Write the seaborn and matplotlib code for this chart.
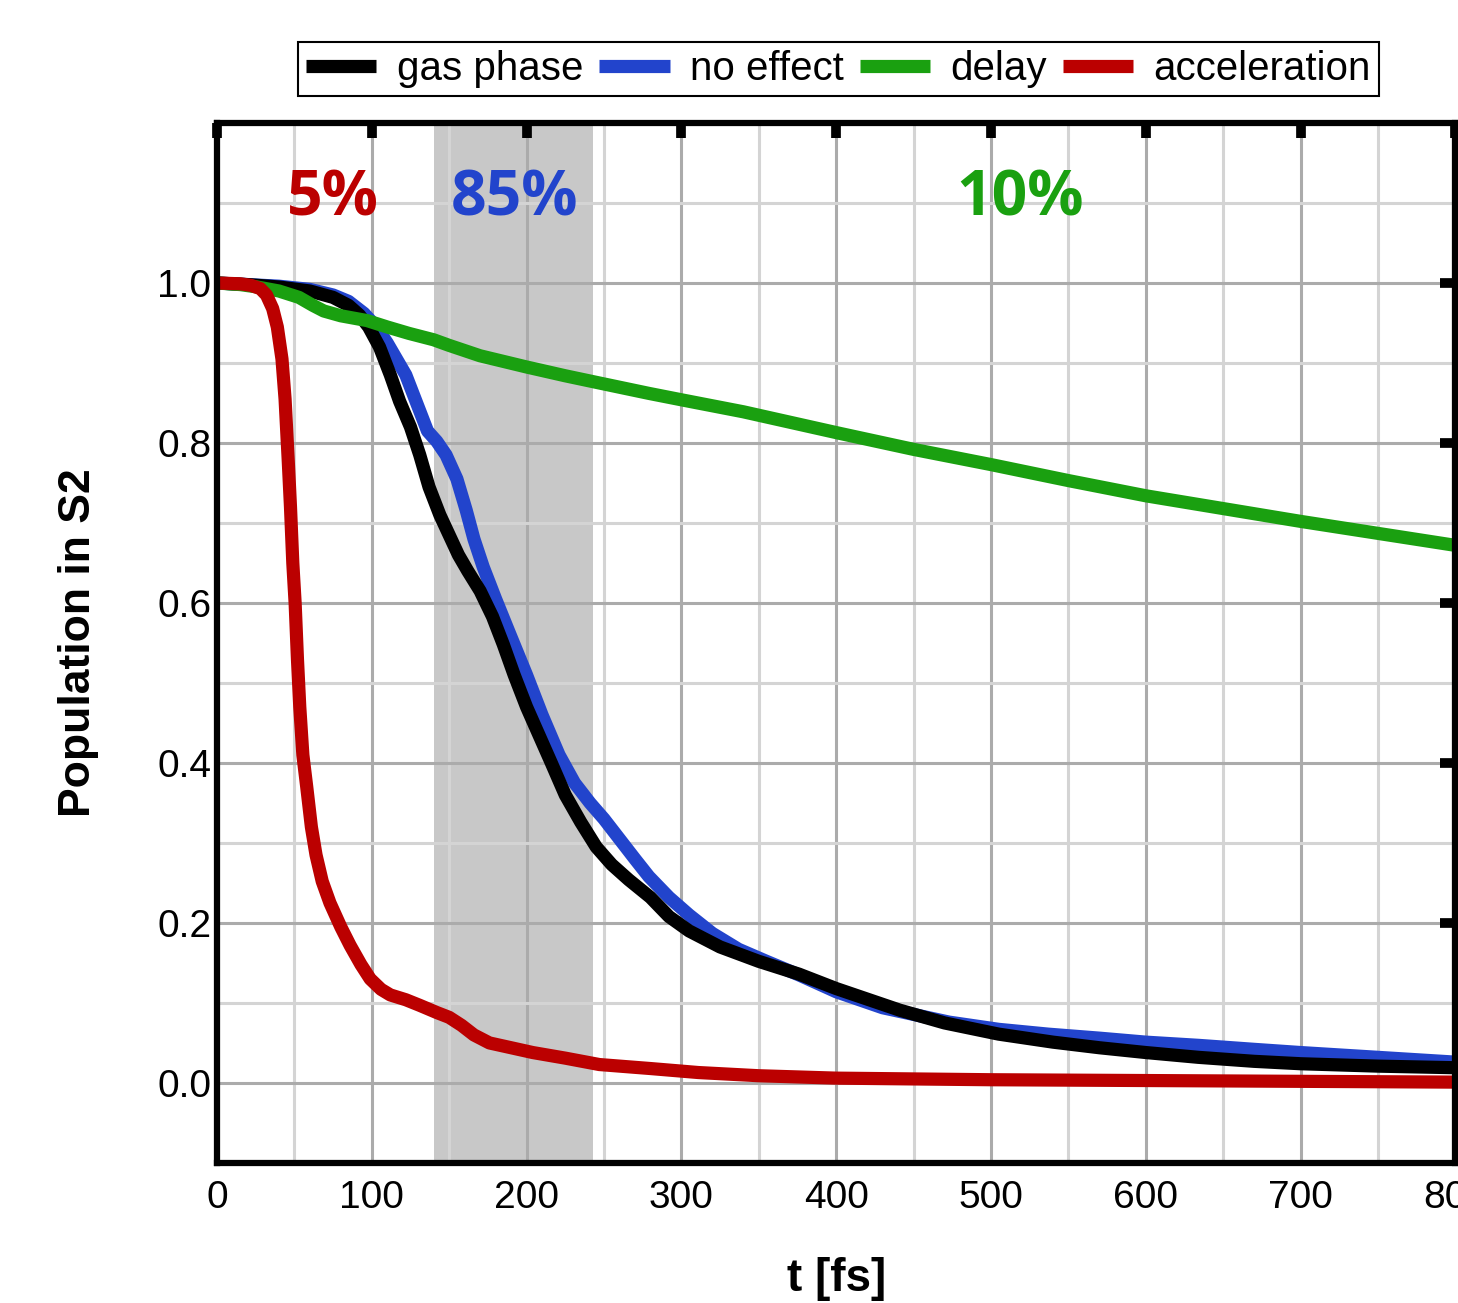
import matplotlib
matplotlib.use("Agg")
import matplotlib.pyplot as plt
from matplotlib.ticker import MultipleLocator
import pandas as pd
import seaborn as sns

# curves
gas_t = [0, 20, 40, 60, 75, 85, 92, 98, 105, 112, 118, 125, 131, 137, 144, 150, 156, 162, 170, 178,
         185, 192, 200, 208, 216, 225, 235, 245, 255, 266, 280, 292, 305, 325, 350, 376, 400, 441,
         470, 505, 540, 570, 600, 634, 670, 700, 750, 800]
gas_y = [1.0, 0.998, 0.995, 0.99, 0.982, 0.972, 0.96, 0.945, 0.92, 0.885, 0.852, 0.82, 0.785, 0.745,
         0.71, 0.685, 0.66, 0.64, 0.615, 0.583, 0.548, 0.51, 0.47, 0.435, 0.40, 0.36, 0.326, 0.295,
         0.273, 0.254, 0.232, 0.208, 0.19, 0.17, 0.152, 0.136, 0.118, 0.091, 0.075, 0.061, 0.051,
         0.044, 0.038, 0.032, 0.027, 0.024, 0.021, 0.019]

noeff_t = [0, 20, 40, 60, 75, 85, 95, 103, 110, 116, 122, 127, 131, 136, 142, 148, 155, 161, 166,
           172, 180, 189, 200, 210, 221, 231, 241, 250, 260, 270, 279, 292, 305, 320, 337, 355, 376,
           400, 430, 473, 505, 537, 570, 600, 634, 670, 700, 750, 800]
noeff_y = [1.0, 0.998, 0.996, 0.992, 0.985, 0.977, 0.962, 0.945, 0.925, 0.905, 0.885, 0.86, 0.84,
           0.815, 0.802, 0.785, 0.755, 0.716, 0.68, 0.645, 0.605, 0.562, 0.51, 0.46, 0.41, 0.375,
           0.35, 0.33, 0.305, 0.28, 0.258, 0.232, 0.21, 0.187, 0.167, 0.152, 0.135, 0.114, 0.094,
           0.076, 0.067, 0.061, 0.056, 0.051, 0.047, 0.042, 0.038, 0.032, 0.026]

delay_t = [0, 15, 26, 40, 53, 62, 69, 80, 97, 110, 124, 140, 150, 170, 200, 225, 247, 279, 300,
           340, 370, 400, 450, 500, 550, 600, 650, 700, 750, 800]
delay_y = [1.0, 0.998, 0.995, 0.99, 0.982, 0.972, 0.965, 0.959, 0.953, 0.945, 0.937, 0.929, 0.922,
           0.909, 0.895, 0.884, 0.875, 0.862, 0.854, 0.839, 0.826, 0.813, 0.792, 0.773, 0.753,
           0.734, 0.718, 0.702, 0.687, 0.672]

accel_t = [0, 15, 22, 28, 32, 36, 39, 42, 44, 46, 47.5, 49, 50.5, 52, 53.5, 55.5, 58, 61, 64, 68,
           73, 80, 86, 93, 99, 106, 112, 122, 131, 142, 150, 158, 166, 176, 190, 204, 225, 247, 280,
           311, 350, 400, 500, 600, 700, 800]
accel_y = [1.0, 0.999, 0.997, 0.993, 0.985, 0.968, 0.945, 0.905, 0.855, 0.78, 0.72, 0.65, 0.6,
           0.53, 0.47, 0.41, 0.37, 0.32, 0.285, 0.252, 0.225, 0.195, 0.172, 0.148, 0.13, 0.117,
           0.11, 0.104, 0.097, 0.088, 0.082, 0.072, 0.06, 0.05, 0.044, 0.038, 0.031, 0.023, 0.018,
           0.013, 0.009, 0.006, 0.004, 0.003, 0.002, 0.001]

labels = ["gas phase", "no effect", "delay", "acceleration"]
colors = ["#000000", "#2244cc", "#1aa010", "#bb0000"]
shares = ["5%", "85%", "10%"]
share_x = [75, 192, 519]
share_colors = ["#bb0000", "#2244cc", "#1aa010"]
shade = (140, 243)

frames = []
for name, t, y in zip(labels, [gas_t, noeff_t, delay_t, accel_t], [gas_y, noeff_y, delay_y, accel_y]):
    frames.append(pd.DataFrame({"t": t, "pop": y, "series": name}))
df = pd.concat(frames, ignore_index=True)

sns.set_theme(style="white")
plt.rcParams["font.family"] = ["Liberation Sans", "DejaVu Sans"]
plt.rcParams["text.color"] = "black"
plt.rcParams["axes.labelcolor"] = "black"

fig = plt.figure(figsize=(14.58, 13.03), dpi=100)
ax = fig.add_axes([0.1488, 0.1075, 0.8494, 0.7981])

ax.axvspan(shade[0], shade[1], color="#c8c8c8", lw=0, zorder=0)

sns.lineplot(data=df, x="t", y="pop", hue="series", hue_order=labels,
             palette=colors, sort=False, lw=9.5, ax=ax, legend=False)
# drawing order: blue, black, green, red
for line, z in zip(ax.lines, [3, 2, 4, 5]):
    line.set_zorder(z)
    line.set_solid_capstyle("butt")
    line.set_solid_joinstyle("round")

ax.set_xlim(0, 800)
ax.set_ylim(-0.1, 1.2)
ax.set_xticks(range(0, 801, 100))
ax.set_yticks([0.0, 0.2, 0.4, 0.6, 0.8, 1.0])
ax.set_yticklabels(["0.0", "0.2", "0.4", "0.6", "0.8", "1.0"])
ax.xaxis.set_minor_locator(MultipleLocator(50))
ax.yaxis.set_minor_locator(MultipleLocator(0.1))
ax.grid(which="minor", color="#d4d4d4", lw=2.2, zorder=1)
ax.grid(which="major", color="#ababab", lw=2.2, zorder=1)
ax.set_axisbelow(True)

ax.tick_params(which="major", direction="in", length=11, width=7, color="black",
               top=True, right=True, labelsize=28, labelcolor="black")
ax.tick_params(which="minor", length=0)
ax.tick_params(axis="x", pad=12)
ax.tick_params(axis="y", pad=4)
for s in ax.spines.values():
    s.set_linewidth(4.5)
    s.set_color("black")
    s.set_zorder(10)

ax.set_xlabel("t [fs]", fontsize=33, fontweight="bold", labelpad=30)
ax.set_ylabel("Population in S2", fontsize=32, fontweight="bold", labelpad=42)

for txt, x, c in zip(shares, share_x, share_colors):
    ax.text(x, 1.105, txt, color=c, fontsize=45, fontweight="bold",
            family=["Open Sans", "DejaVu Sans"], ha="center", va="center")

handles = [plt.Line2D([], [], color=c, lw=9.5, solid_capstyle="butt") for c in colors]
leg = fig.legend(handles, labels, loc="center", bbox_to_anchor=(0.575, 0.947), ncol=4,
                 fontsize=29, frameon=True, fancybox=False, framealpha=1, edgecolor="black",
                 handlelength=1.75, handletextpad=0.5, columnspacing=0.4, borderpad=0.2)
leg.get_frame().set_linewidth(1.5)

fig.savefig("out.png", dpi=100)
